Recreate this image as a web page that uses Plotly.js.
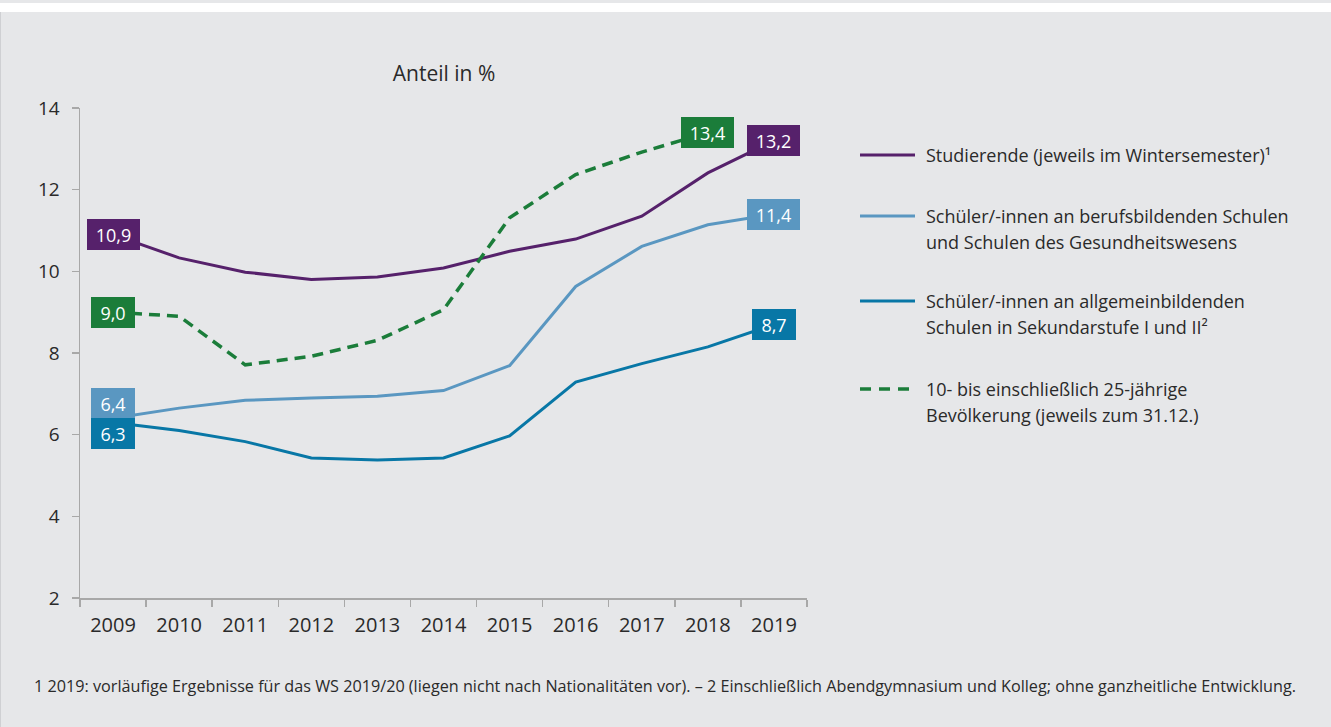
<!DOCTYPE html>
<html>
<head>
<meta charset="utf-8">
<script src="https://cdn.plot.ly/plotly-3.0.1.min.js"></script>
<style>
html,body{margin:0;padding:0;background:#e6e7e9;}
#chart{width:1331px;height:727px;}
</style>
</head>
<body>
<div id="chart"></div>
<script>
// ---- data ----
const years = ["2009","2010","2011","2012","2013","2014","2015","2016","2017","2018","2019"];
const studierende = [10.9, 10.33, 9.98, 9.8, 9.86, 10.08, 10.49, 10.79, 11.35, 12.41, 13.2];
const berufsbildend = [6.4, 6.65, 6.84, 6.9, 6.94, 7.08, 7.69, 9.63, 10.61, 11.14, 11.4];
const allgemeinbildend = [6.3, 6.1, 5.83, 5.43, 5.38, 5.43, 5.97, 7.29, 7.74, 8.15, 8.7];
const bevoelkerung = [9.0, 8.9, 7.71, 7.92, 8.31, 9.06, 11.31, 12.37, 12.92, 13.4];
const seriesNames = [
  ["Studierende (jeweils im Wintersemester)¹"],
  ["Schüler/-innen an berufsbildenden Schulen", "und Schulen des Gesundheitswesens"],
  ["Schüler/-innen an allgemeinbildenden", "Schulen in Sekundarstufe I und II²"],
  ["10- bis einschließlich 25-jährige", "Bevölkerung (jeweils zum 31.12.)"]
];
const yTicks = [2, 4, 6, 8, 10, 12, 14];
const titleText = "Anteil in %";
const footnote = "1 2019: vorläufige Ergebnisse für das WS 2019/20 (liegen nicht nach Nationalitäten vor). – 2 Einschließlich Abendgymnasium und Kolleg; ohne ganzheitliche Entwicklung.";

// ---- styles ----
const colors = ["#56216b", "#5a97c1", "#0877a6", "#1b7d3a"];
const dashes = ["solid", "solid", "solid", "11px,7px"];
const widths = [3, 3, 3, 3.5];
const FONT = "Open Sans, Noto Sans, sans-serif";
const TXT = "#2a2a2a";

// plot area in px
const W = 1331, H = 727;
const L = 80, R = 807, T = 108, B = 598;
const px2x = p => (p - L) / (R - L);
const px2y = p => (B - p) / (B - T);

const allSeries = [studierende, berufsbildend, allgemeinbildend, bevoelkerung];
const traces = allSeries.map((vals, i) => ({
  type: "scatter",
  mode: "lines",
  x: years.slice(0, vals.length),
  y: vals,
  name: seriesNames[i].join(" "),
  showlegend: false,
  line: {color: colors[i], width: widths[i], dash: dashes[i]},
  hoverinfo: "x+y"
}));

const fmt = v => v.toFixed(1).replace(".", ",");
const annotations = [];
function valueLabel(seriesIdx, pointIdx, yshift) {
  const vals = allSeries[seriesIdx];
  const t = fmt(vals[pointIdx]);
  annotations.push({
    x: pointIdx, y: vals[pointIdx], xref: "x", yref: "y",
    text: t, showarrow: false,
    bgcolor: colors[seriesIdx], borderpad: 0, borderwidth: 0,
    width: 9 * t.length + 17, height: 31,
    font: {family: FONT, size: 18, color: "#ffffff"},
    yshift: yshift || 0
  });
}
valueLabel(0, 0); valueLabel(0, 10);
valueLabel(3, 0); valueLabel(3, 9);
valueLabel(1, 0, 15); valueLabel(1, 10);
valueLabel(2, 0, -11); valueLabel(2, 10);

// legend (manual)
const legendRows = [[155], [216, 242], [301, 327], [389, 415]];
const shapes = [];
legendRows.forEach((rows, i) => {
  shapes.push({
    type: "line", xref: "paper", yref: "paper",
    x0: px2x(860), x1: px2x(915), y0: px2y(rows[0]), y1: px2y(rows[0]),
    line: {color: colors[i], width: widths[i], dash: i === 3 ? "11px,8px" : "solid"}
  });
  rows.forEach((yy, j) => {
    annotations.push({
      xref: "paper", yref: "paper", x: px2x(924), y: px2y(yy),
      xanchor: "left", yanchor: "middle", showarrow: false,
      text: seriesNames[i][j], align: "left",
      font: {family: FONT, size: 18, color: TXT}
    });
  });
});

// footnote
annotations.push({
  xref: "paper", yref: "paper", x: px2x(32), y: px2y(686),
  xanchor: "left", yanchor: "middle", showarrow: false,
  text: footnote,
  font: {family: FONT, size: 16.2, color: TXT}
});

// white band at top and panel border
shapes.push({type: "rect", xref: "paper", yref: "paper", layer: "below",
  x0: px2x(0), x1: px2x(W), y0: px2y(3), y1: px2y(12),
  fillcolor: "#ffffff", line: {width: 0}});
shapes.push({type: "line", xref: "paper", yref: "paper", layer: "below",
  x0: px2x(0.5), x1: px2x(0.5), y0: px2y(12), y1: px2y(H),
  line: {color: "#cfd0d3", width: 1}});

const layout = {
  width: W, height: H,
  margin: {l: L, r: W - R, t: T, b: H - B, pad: 0},
  paper_bgcolor: "#e6e7e9",
  plot_bgcolor: "#e6e7e9",
  font: {family: FONT, size: 18, color: TXT},
  title: {
    text: titleText, x: px2x(444), xref: "paper", xanchor: "center",
    y: 1 - 74 / H, yref: "container", yanchor: "middle",
    font: {family: FONT, size: 21, color: TXT}
  },
  xaxis: {
    type: "category",
    range: [-0.5, 10.5],
    tickson: "boundaries",
    ticks: "outside", ticklen: 7, tickwidth: 1.5, tickcolor: "#a8a8a8",
    showline: true, linecolor: "#a8a8a8", linewidth: 1.5,
    showgrid: false, zeroline: false,
    tickfont: {family: FONT, size: 20, color: TXT},
    ticklabelstandoff: 8,
    fixedrange: true
  },
  yaxis: {
    range: [2, 14],
    tickvals: yTicks,
    ticktext: yTicks.map(String),
    ticks: "outside", ticklen: 7, tickwidth: 1.5, tickcolor: "#a8a8a8",
    showline: true, linecolor: "#a8a8a8", linewidth: 1.5,
    showgrid: false, zeroline: false,
    tickfont: {family: FONT, size: 19, color: TXT},
    ticklabelstandoff: 8,
    fixedrange: true
  },
  annotations: annotations,
  shapes: shapes,
  showlegend: false
};

Plotly.newPlot("chart", traces, layout, {displayModeBar: false, staticPlot: true});
</script>
</body>
</html>
